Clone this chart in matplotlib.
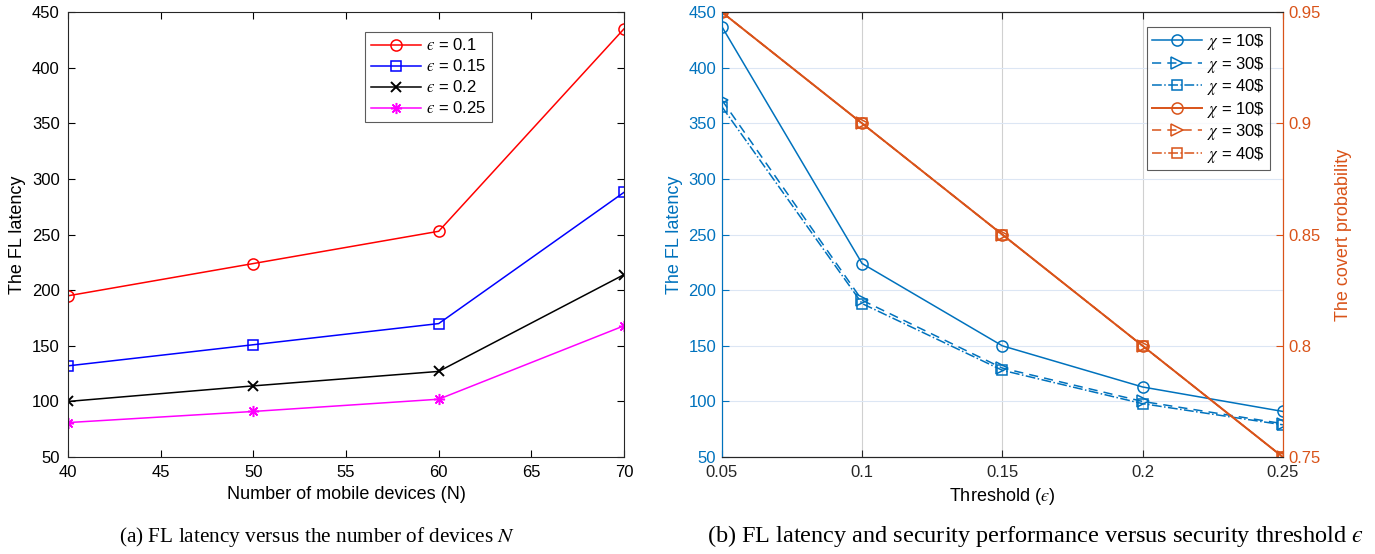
import matplotlib.pyplot as plt

plt.rcParams['font.family'] = ['Liberation Sans', 'DejaVu Sans']
plt.rcParams['mathtext.fontset'] = 'stix'

EPS = '\u03f5'

# (a) latency versus number of devices
devices = [40, 50, 60, 70]
eps_labels = ['$' + EPS + '$ = 0.1', '$' + EPS + '$ = 0.15', '$' + EPS + '$ = 0.2', '$' + EPS + '$ = 0.25']
lat_eps01 = [195, 224, 253, 435]
lat_eps015 = [132, 151, 170, 288]
lat_eps02 = [100, 114, 127, 214]
lat_eps025 = [81, 91, 102, 168]

# (b) latency and covert probability versus threshold
threshold = [0.05, 0.1, 0.15, 0.2, 0.25]
chi_labels = [r'$\chi$ = 10\$', r'$\chi$ = 30\$', r'$\chi$ = 40\$']
lat_chi10 = [437, 224, 150, 113, 91]
lat_chi30 = [371, 191, 130, 100, 80]
lat_chi40 = [365, 188, 128, 98, 79]
cov_chi10 = [0.95, 0.9, 0.85, 0.8, 0.75]
cov_chi30 = [0.95, 0.9, 0.85, 0.8, 0.75]
cov_chi40 = [0.95, 0.9, 0.85, 0.8, 0.75]

BLUE = '#0072BD'
ORANGE = '#D95319'
FS = 12
ASTERISK = (8, 2, 0)

fig = plt.figure(figsize=(13.75, 5.54), dpi=100)

# ---------------- left panel ----------------
ax1 = fig.add_axes([0.0495, 0.175, 0.4043, 0.803])
lw = 1.1
ax1.plot(devices, lat_eps01, '-o', color='r', lw=lw, ms=8, mfc='none', mew=1.1, label=eps_labels[0])
ax1.plot(devices, lat_eps015, '-s', color='b', lw=lw, ms=6.5, mfc='none', mew=1.1, label=eps_labels[1])
ax1.plot(devices, lat_eps02, '-x', color='k', lw=lw, ms=6.5, mew=1.4, label=eps_labels[2])
ax1.plot(devices, lat_eps025, '-', marker=ASTERISK, color='#FF00FF', lw=lw, ms=8, mew=1.1, label=eps_labels[3])
ax1.set_xlim(40, 70)
ax1.set_ylim(50, 450)
ax1.set_xticks(range(40, 71, 5))
ax1.set_yticks(range(50, 451, 50))
ax1.tick_params(direction='in', top=True, right=True, labelsize=FS, length=5, pad=6)
ax1.set_xlabel('Number of mobile devices (N)', fontsize=FS + 1)
ax1.set_ylabel('The FL latency', fontsize=FS + 1)
leg1 = ax1.legend(loc='upper left', bbox_to_anchor=(0.52, 0.975), fontsize=FS, frameon=True,
                  fancybox=False, edgecolor='#333333', handlelength=3.0, borderpad=0.35,
                  labelspacing=0.3, handletextpad=0.3)
leg1.get_frame().set_linewidth(0.8)
for s in ax1.spines.values():
    s.set_color('#262626')

# ---------------- right panel ----------------
ax2 = fig.add_axes([0.525, 0.175, 0.408, 0.803])
ax3 = ax2.twinx()

l1, = ax2.plot(threshold, lat_chi10, '-o', color=BLUE, lw=lw, ms=8, mfc='none', mew=1.1, label=chi_labels[0])
l2, = ax2.plot(threshold, lat_chi30, '-->', color=BLUE, lw=lw, ms=8, mfc='none', mew=1.1, dashes=(6, 4), label=chi_labels[1])
l3, = ax2.plot(threshold, lat_chi40, '-.s', color=BLUE, lw=lw, ms=6.5, mfc='none', mew=1.1, label=chi_labels[2])
r1, = ax3.plot(threshold, cov_chi10, '-o', color=ORANGE, lw=lw + 0.3, ms=8, mfc='none', mew=1.1, label=chi_labels[0])
r2, = ax3.plot(threshold, cov_chi30, '-->', color=ORANGE, lw=lw, ms=8, mfc='none', mew=1.1, dashes=(6, 4), label=chi_labels[1])
r3, = ax3.plot(threshold, cov_chi40, '-.s', color=ORANGE, lw=lw, ms=6.5, mfc='none', mew=1.1, label=chi_labels[2])

ax2.set_xlim(0.05, 0.25)
ax2.set_ylim(50, 450)
ax3.set_ylim(0.75, 0.95)
ax2.set_xticks(threshold)
ax2.set_xticklabels(['0.05', '0.1', '0.15', '0.2', '0.25'])
ax2.set_yticks(range(50, 451, 50))
ax3.set_yticks([0.75, 0.8, 0.85, 0.9, 0.95])
ax3.set_yticklabels(['0.75', '0.8', '0.85', '0.9', '0.95'])

ax2.grid(axis='x', color='#d0d0d0', lw=0.8)
ax2.grid(axis='y', color='#dce6f4', lw=0.8)
ax2.set_axisbelow(True)

ax2.tick_params(axis='x', direction='in', top=True, labelsize=FS, length=5, pad=6, colors='#262626')
ax2.tick_params(axis='y', direction='in', labelsize=FS, length=5, pad=4, colors=BLUE)
ax3.tick_params(axis='y', direction='in', labelsize=FS, length=5, pad=4, colors=ORANGE)
ax2.spines['left'].set_color(BLUE)
ax3.spines['left'].set_color(BLUE)
ax3.spines['right'].set_color(ORANGE)
ax2.spines['right'].set_color(ORANGE)
for a in (ax2, ax3):
    a.spines['top'].set_color('#262626')
    a.spines['bottom'].set_color('#262626')

ax2.set_xlabel('Threshold ($' + EPS + '$)', fontsize=FS + 1)
ax2.set_ylabel('The FL latency', fontsize=FS + 1, color=BLUE)
ax3.set_ylabel('The covert probability', fontsize=FS + 1, color=ORANGE, labelpad=10)

leg2 = ax3.legend([l1, l2, l3, r1, r2, r3], chi_labels + chi_labels, loc='upper right',
                  bbox_to_anchor=(0.992, 0.985), fontsize=FS, frameon=True, fancybox=False,
                  edgecolor='#333333', handlelength=3.0, borderpad=0.3, labelspacing=0.15,
                  handletextpad=0.3)
leg2.get_frame().set_linewidth(0.8)

# captions
fig.text(0.231, 0.022, '(a) FL latency versus the number of devices $N$', ha='center',
         fontsize=15.3, family='Liberation Serif')
fig.text(0.753, 0.022, '(b) FL latency and security performance versus security threshold $' + EPS + '$',
         ha='center', fontsize=17.5, family='Liberation Serif')

fig.savefig('out.png', dpi=100)
